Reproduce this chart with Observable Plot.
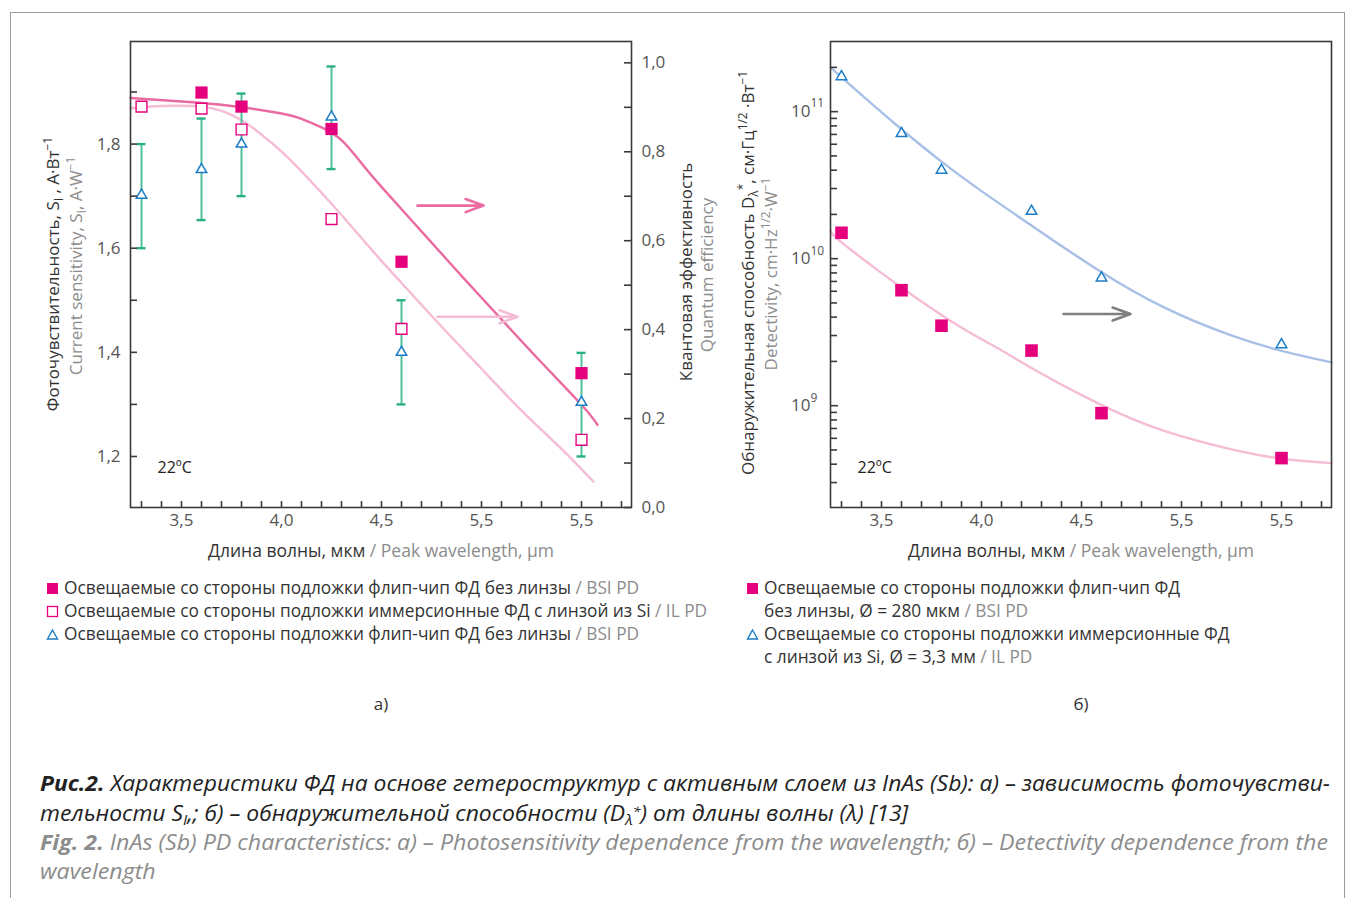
<!DOCTYPE html>
<html><head><meta charset="utf-8">
<script src="https://cdn.jsdelivr.net/npm/d3@7"></script>
<script src="https://cdn.jsdelivr.net/npm/@observablehq/plot@0.6"></script>
<style>
html,body{margin:0;padding:0;background:#fff;}
#page{position:relative;width:1355px;height:898px;overflow:hidden;font-family:"Open Sans","Noto Sans",sans-serif;color:#333;}
#box{position:absolute;left:10px;top:12px;width:1335px;height:900px;border:1px solid #9a9a9a;box-sizing:border-box;}
.abs{position:absolute;white-space:nowrap;}
.g{color:#8c8c8c;}
.ytitle{position:absolute;white-space:nowrap;font-size:17px;line-height:1;transform:translate(-50%,-50%) rotate(-90deg);}
.leg{position:absolute;font-size:17.3px;white-space:nowrap;line-height:22px;}
.leg svg{display:inline-block;vertical-align:-1px;margin-right:5px;}
.cap{position:absolute;left:40px;white-space:nowrap;font-family:"Open Sans","Noto Sans",sans-serif;font-style:italic;font-size:21px;line-height:23px;transform-origin:0 50%;}
sub,sup{font-size:70%;line-height:0;}
.sub{font-size:68%;position:relative;top:0.3em;line-height:0;}
.sp{font-size:62%;position:relative;top:-0.35em;line-height:0;}
</style></head>
<body><div id="page">
<div id="box"></div>
<div id="chartA" class="abs" style="left:0;top:0;width:700px;height:580px"></div>
<div id="chartB" class="abs" style="left:700px;top:0;width:655px;height:580px"></div>

<div class="ytitle" style="left:52px;top:274px">Фоточувствительность, S<sub>I</sub> , А·Вт<sup>−1</sup></div>
<div class="ytitle g" style="left:75px;top:266px">Current sensitivity, S<sub>I</sub>, A·W<sup>−1</sup></div>
<div class="ytitle" style="left:685px;top:272px">Квантовая эффективность</div>
<div class="ytitle g" style="left:706px;top:275px">Quantum efficiency</div>
<div class="ytitle" style="left:747px;top:273px">Обнаружительная способность D<sub>λ</sub><sup>*</sup>, см·Гц<sup>1/2</sup> ·Вт<sup>−1</sup></div>
<div class="ytitle g" style="left:770px;top:274px">Detectivity, cm·Hz<sup>1/2</sup>·W<sup>−1</sup></div>

<div class="abs" style="left:381px;top:550px;transform:translate(-50%,-50%);font-size:17.5px">Длина волны, мкм <span class="g"> / Peak wavelength, µm</span></div>
<div class="abs" style="left:1081px;top:550px;transform:translate(-50%,-50%);font-size:17.5px">Длина волны, мкм <span class="g"> / Peak wavelength, µm</span></div>

<div class="leg" style="left:46px;top:577px"><svg width="13" height="13"><rect x="1" y="1" width="11" height="11" fill="#e5007d"/></svg>Освещаемые со стороны подложки флип-чип ФД без линзы <span class="g">/ BSI PD</span></div>
<div class="leg" style="left:46px;top:600px"><svg width="13" height="13"><rect x="1.5" y="1.5" width="10" height="10" fill="#fff" stroke="#e5007d" stroke-width="1.3"/></svg>Освещаемые со стороны подложки иммерсионные ФД с линзой из Si <span class="g">/ IL PD</span></div>
<div class="leg" style="left:46px;top:623px"><svg width="13" height="13"><path d="M6.5,2 L11.5,11 L1.5,11 Z" fill="#fff" stroke="#1b7cc6" stroke-width="1.4"/></svg>Освещаемые со стороны подложки флип-чип ФД без линзы <span class="g">/ BSI PD</span></div>

<div class="leg" style="left:746px;top:577px"><svg width="13" height="13"><rect x="1" y="1" width="11" height="11" fill="#e5007d"/></svg>Освещаемые со стороны подложки флип-чип ФД</div>
<div class="leg" style="left:764px;top:600px">без линзы, Ø = 280 мкм <span class="g">/ BSI PD</span></div>
<div class="leg" style="left:746px;top:623px"><svg width="13" height="13"><path d="M6.5,2 L11.5,11 L1.5,11 Z" fill="#fff" stroke="#1b7cc6" stroke-width="1.4"/></svg>Освещаемые со стороны подложки иммерсионные ФД</div>
<div class="leg" style="left:764px;top:646px">с линзой из Si, Ø = 3,3 мм <span class="g">/ IL PD</span></div>

<div class="abs" style="left:381px;top:703px;transform:translate(-50%,-50%);font-size:17px">а)</div>
<div class="abs" style="left:1081px;top:703px;transform:translate(-50%,-50%);font-size:17px">б)</div>

<div class="cap" id="c1" style="top:772px;color:#222"><b>Рис.2.</b> Характеристики ФД на основе гетероструктур с активным слоем из InAs (Sb): а) – зависимость фоточувстви-</div>
<div class="cap" id="c2" style="top:802px;color:#222">тельности S<span class="sub">I</span>,; б) – обнаружительной способности (D<span class="sub">λ</span><span class="sp">*</span>) от длины волны (λ) [13]</div>
<div class="cap g" id="c3" style="top:831px"><b>Fig. 2.</b> InAs (Sb) PD characteristics: а) – Photosensitivity dependence from the wavelength; б) – Detectivity dependence from the</div>
<div class="cap g" id="c4" style="top:860px">wavelength</div>
</div>
<script>
// ---------- data (a) ----------
const wlSqBSI = [3.6, 3.8, 4.25, 4.6, 5.5];
const sSqBSI  = [1.899, 1.872, 1.829, 1.574, 1.360];
const wlSqIL  = [3.3, 3.6, 3.8, 4.25, 4.6, 5.5];
const sSqIL   = [1.872, 1.868, 1.828, 1.656, 1.445, 1.232];
const wlTri   = [3.3, 3.6, 3.8, 4.25, 4.6, 5.5];
const sTri    = [1.702, 1.751, 1.800, 1.852, 1.400, 1.304];
const sTriLo  = [1.600, 1.654, 1.700, 1.752, 1.300, 1.200];
const sTriHi  = [1.800, 1.849, 1.897, 1.949, 1.500, 1.399];
// quantum efficiency curves (right axis)
const wlQeDark = [3.245, 3.5, 3.75, 4.0, 4.1, 4.2, 4.3, 4.4, 4.5, 4.7, 4.9, 5.1, 5.3, 5.5, 5.58];
const qeDark   = [0.921, 0.913, 0.903, 0.886, 0.874, 0.855, 0.826, 0.774, 0.721, 0.621, 0.521, 0.423, 0.326, 0.231, 0.186];
const wlQeLight = [3.245, 3.4, 3.55, 3.65, 3.75, 3.85, 3.95, 4.05, 4.25, 4.45, 4.6, 4.8, 5.0, 5.2, 5.4, 5.56];
const qeLight   = [0.898, 0.903, 0.903, 0.898, 0.883, 0.856, 0.820, 0.779, 0.683, 0.580, 0.505, 0.407, 0.312, 0.218, 0.132, 0.058];
const arrowsA = [{x1: 4.68, x2: 5.01, q: 0.679, c: "#eb6aa1"}, {x1: 4.78, x2: 5.18, q: 0.429, c: "#f5bcd6"}];
const xTickPos = [3.5, 4.0, 4.5, 5.0, 5.5];
const xTickLabels = ["3,5", "4,0", "4,5", "5,5", "5,5"];
const xMinor = [3.3,3.4,3.5,3.6,3.7,3.8,3.9,4.0,4.1,4.2,4.3,4.4,4.5,4.6,4.7,4.8,4.9,5.0,5.1,5.2,5.3,5.4,5.5,5.6,5.7];
const sTicks = [1.2, 1.3, 1.4, 1.5, 1.6, 1.7, 1.8, 1.9];
const sLabels = [1.2, 1.4, 1.6, 1.8];
const qeTicks = [0, 0.1, 0.2, 0.3, 0.4, 0.5, 0.6, 0.7, 0.8, 0.9, 1.0];
const qeLabels = [0, 0.2, 0.4, 0.6, 0.8, 1.0];
// ---------- data (b) ----------
const wlD   = [3.3, 3.6, 3.8, 4.25, 4.6, 5.5];
const dIL   = [1.73e11, 7.1e10, 4.0e10, 2.1e10, 7.4e9, 2.6e9];
const dBSI  = [1.5e10, 6.1e9, 3.5e9, 2.37e9, 8.9e8, 4.4e8];
const wlCurveIL = [3.245, 3.4, 3.6, 3.8, 4.0, 4.245, 4.575, 4.91, 5.245, 5.51, 5.75];
const dCurveIL  = [2.0e11, 1.30e11, 7.59e10, 4.57e10, 2.88e10, 1.70e10, 8.51e9, 4.68e9, 3.02e9, 2.34e9, 1.97e9];
const wlCurveBSI = [3.245, 3.35, 3.79, 4.075, 4.245, 4.575, 4.91, 5.245, 5.51, 5.75];
const dCurveBSI  = [1.55e10, 1.14e10, 4.22e9, 2.49e9, 1.82e9, 1.05e9, 6.76e8, 5.07e8, 4.34e8, 4.07e8];
const arrowsB = [{x1: 4.41, x2: 4.745, y: 4.2e9}];
const dMajor = [1e9, 1e10, 1e11];
const dMajorExp = ["9", "10", "11"];
const dMinor = [3e8,4e8,5e8,6e8,7e8,8e8,9e8, 2e9,3e9,4e9,5e9,6e9,7e9,8e9,9e9, 2e10,3e10,4e10,5e10,6e10,7e10,8e10,9e10, 2e11];

// ---------- styling ----------
const MAG = "#e5007d", DARK = "#eb6aa1", LIGHT = "#f5bcd6", TEAL = "#2aae86", BLUE = "#1b7cc6", BLUEC = "#a8c0e8", GREY = "#808080";
const AX = "#3a3a3a", LAB = "#555";
const FONT = "Open Sans, Noto Sans, sans-serif";
const xDomain = [3.245, 5.75];
const sDomain = [1.102, 1.997];
const q2s = q => sDomain[0] + q * 0.854;
const fmt1 = d => d.toFixed(1).replace(".", ",");
const FW = 501, FH = 466;

const tri = wlTri.map((x, i) => ({x, y: sTri[i], lo: sTriLo[i], hi: sTriHi[i]}));
const sqIL = wlSqIL.map((x, i) => ({x, y: sSqIL[i]}));
const sqBSI = wlSqBSI.map((x, i) => ({x, y: sSqBSI[i]}));
const darkC = wlQeDark.map((x, i) => ({x, y: q2s(qeDark[i])}));
const lightC = wlQeLight.map((x, i) => ({x, y: q2s(qeLight[i])}));
const xLab = xTickPos.map((v, i) => ({v, t: xTickLabels[i]}));

const common = {fontFamily: FONT, fontSize: 17, fill: LAB};

const chartA = Plot.plot({
  width: 700, height: 580, marginLeft: 130, marginRight: 69, marginTop: 41, marginBottom: 73,
  x: {domain: xDomain, axis: null},
  y: {domain: sDomain, axis: null},
  style: {background: "transparent", overflow: "visible", fontFamily: FONT},
  marks: [
    Plot.line(lightC, {x: "x", y: "y", stroke: LIGHT, strokeWidth: 2.4, curve: "natural"}),
    Plot.line(darkC, {x: "x", y: "y", stroke: DARK, strokeWidth: 2.4, curve: "natural"}),
    Plot.arrow(arrowsA, {x1: "x1", x2: "x2", y1: d => q2s(d.q), y2: d => q2s(d.q), stroke: "c", strokeWidth: 2.6, headLength: 11, headAngle: 40}),
    Plot.ruleX(tri, {x: "x", y1: "lo", y2: "hi", stroke: "#4fc09c", strokeWidth: 2}),
    Plot.ruleY(tri, {y: "lo", x1: "x", x2: "x", insetLeft: -4.5, insetRight: -4.5, stroke: TEAL, strokeWidth: 2.4}),
    Plot.ruleY(tri, {y: "hi", x1: "x", x2: "x", insetLeft: -4.5, insetRight: -4.5, stroke: TEAL, strokeWidth: 2.4}),
    Plot.dot(tri, {x: "x", y: "y", symbol: "triangle", r: 3.9, fill: "white", stroke: BLUE, strokeWidth: 1.5}),
    Plot.dot(sqIL, {x: "x", y: "y", symbol: "square", r: 6.1, fill: "white", stroke: MAG, strokeWidth: 1.4}),
    Plot.dot(sqBSI, {x: "x", y: "y", symbol: "square", r: 6.9, fill: MAG}),
    Plot.frame({stroke: AX, strokeWidth: 1.6}),
    Plot.tickY(sTicks, {y: d => d, insetRight: FW - 7, stroke: AX, strokeWidth: 1.6}),
    Plot.tickY(qeTicks, {y: d => q2s(d), insetLeft: FW - 7, stroke: AX, strokeWidth: 1.6}),
    Plot.tickX(xMinor, {x: d => d, insetTop: FH - 6, stroke: AX, strokeWidth: 1.6}),
    Plot.text(sLabels, {y: d => d, text: fmt1, frameAnchor: "left", dx: -10, textAnchor: "end", ...common}),
    Plot.text(qeLabels, {y: d => q2s(d), text: fmt1, frameAnchor: "right", dx: 10, textAnchor: "start", ...common}),
    Plot.text(xLab, {x: "v", text: "t", frameAnchor: "bottom", dy: 18, ...common}),
    Plot.text(["22ºC"], {text: d => d, frameAnchor: "bottom-left", dx: 27, dy: -35, textAnchor: "start", fontFamily: FONT, fontSize: 16, fill: "#222"})
  ]
});
document.getElementById("chartA").append(chartA);

const ptsIL = wlD.map((x, i) => ({x, y: dIL[i]}));
const ptsBSI = wlD.map((x, i) => ({x, y: dBSI[i]}));
const curIL = wlCurveIL.map((x, i) => ({x, y: dCurveIL[i]}));
const curBSI = wlCurveBSI.map((x, i) => ({x, y: dCurveBSI[i]}));
const majLab = dMajor.map((v, i) => ({v, e: dMajorExp[i]}));

const chartB = Plot.plot({
  width: 655, height: 580, marginLeft: 130, marginRight: 24, marginTop: 41, marginBottom: 73,
  x: {domain: xDomain, axis: null},
  y: {type: "log", domain: [2.03e8, 3.0e11], axis: null},
  style: {background: "transparent", overflow: "visible", fontFamily: FONT},
  marks: [
    Plot.line(curBSI, {x: "x", y: "y", stroke: LIGHT, strokeWidth: 2.4, curve: "natural"}),
    Plot.line(curIL, {x: "x", y: "y", stroke: BLUEC, strokeWidth: 2.4, curve: "natural"}),
    Plot.arrow(arrowsB, {x1: "x1", x2: "x2", y1: "y", y2: "y", stroke: GREY, strokeWidth: 2.6, headLength: 11, headAngle: 40}),
    Plot.dot(ptsIL, {x: "x", y: "y", symbol: "triangle", r: 3.9, fill: "white", stroke: BLUE, strokeWidth: 1.5}),
    Plot.dot(ptsBSI, {x: "x", y: "y", symbol: "square", r: 7.1, fill: MAG}),
    Plot.frame({stroke: AX, strokeWidth: 1.6}),
    Plot.tickY(dMajor, {y: d => d, insetRight: FW - 8, stroke: AX, strokeWidth: 1.6}),
    Plot.tickY(dMinor, {y: d => d, insetRight: FW - 7, stroke: AX, strokeWidth: 1.6}),
    Plot.tickX(xMinor, {x: d => d, insetTop: FH - 6, stroke: AX, strokeWidth: 1.6}),
    Plot.text(majLab, {y: "v", text: () => "10", frameAnchor: "left", dx: -20, textAnchor: "end", ...common}),
    Plot.text(majLab, {y: "v", text: "e", frameAnchor: "left", dx: -20, dy: -8, textAnchor: "start", fontFamily: FONT, fontSize: 12, fill: LAB}),
    Plot.text(xLab, {x: "v", text: "t", frameAnchor: "bottom", dy: 18, ...common}),
    Plot.text(["22ºC"], {text: d => d, frameAnchor: "bottom-left", dx: 27, dy: -35, textAnchor: "start", fontFamily: FONT, fontSize: 16, fill: "#222"})
  ]
});
document.getElementById("chartB").append(chartB);

// fit caption lines to the reference widths
function fitPair(a, b, target) {
  const ea = document.getElementById(a), eb = document.getElementById(b);
  const w = ea.getBoundingClientRect().width;
  const r = target / w;
  ea.style.transform = `scaleX(${r})`;
  eb.style.transform = `scaleX(${r})`;
}
fitPair("c1", "c2", 1290);
fitPair("c3", "c4", 1288);
</script>
</body></html>
